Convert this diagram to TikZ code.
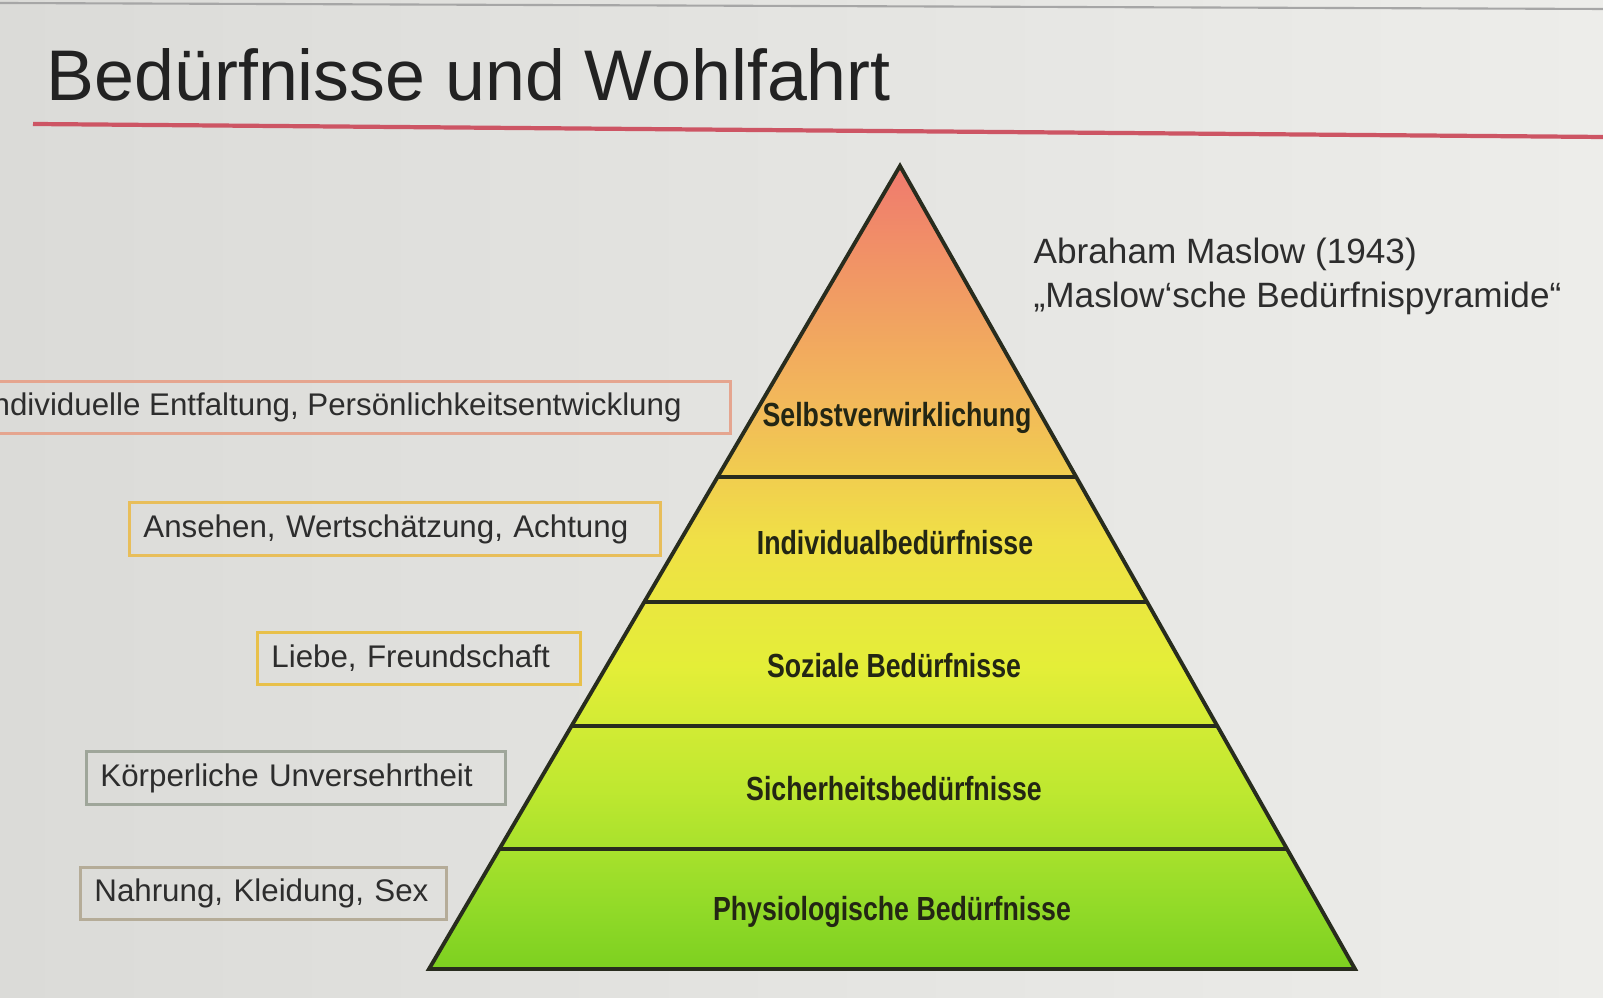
\documentclass[tikz,border=0pt]{standalone}
\usepackage{fontspec}
\setmainfont{Liberation Sans}
\newfontfamily\lblfont[FakeStretch=0.8]{Liberation Sans}
\usetikzlibrary{calc}
\definecolor{bgL}{RGB}{219,219,216}
\definecolor{bgR}{RGB}{237,237,234}
\definecolor{ttl}{RGB}{34,34,34}
\definecolor{txt}{RGB}{45,45,45}
\definecolor{rline}{RGB}{205,85,100}
\definecolor{edge}{RGB}{40,44,30}
\definecolor{lbltxt}{RGB}{35,38,20}
\definecolor{bxRed}{RGB}{229,165,143}
\definecolor{bxOra}{RGB}{232,190,90}
\definecolor{bxYel}{RGB}{232,192,74}
\definecolor{bxGra}{RGB}{159,166,154}
\definecolor{bxBei}{RGB}{181,172,152}
\definecolor{pyA}{RGB}{125,208,32}
\definecolor{pyB}{RGB}{145,218,40}
\definecolor{pyC}{RGB}{190,232,48}
\definecolor{pyD}{RGB}{228,238,56}
\definecolor{pyE}{RGB}{240,224,70}
\definecolor{pyF}{RGB}{242,184,90}
\definecolor{pyG}{RGB}{240,122,110}
\pgfdeclareverticalshading{pyrshade}{100bp}{color(0bp)=(pyA); color(25bp)=(pyA); color(28.7bp)=(pyB); color(36.1bp)=(pyC); color(43.9bp)=(pyD); color(51.7bp)=(pyE); color(60.4bp)=(pyF); color(75bp)=(pyG); color(100bp)=(pyG)}

\begin{document}
\begin{tikzpicture}[x=0.01cm,y=-0.01cm,
  needbox/.style={draw,line width=0.8pt,inner xsep=0.14cm,minimum height=0.52cm,align=left,font=\fontsize{8.9}{11}\selectfont,text=txt},
  lvllbl/.style={font=\lblfont\bfseries\fontsize{9.5}{11}\selectfont,text=lbltxt,inner sep=0pt},
  pyredge/.style={draw=edge,line width=1.1pt}]
\clip (0,0) rectangle (1603,998);
\shade[left color=bgL,right color=bgR] (0,0) rectangle (1603,998);
\draw[gray!70,line width=0.6pt] (0,3) -- (1603,9);
% title
\node[anchor=base west,inner sep=0pt,font=\fontsize{20.4}{24}\selectfont,text=ttl] (title) at (46,101) {Bedürfnisse und Wohlfahrt};
\draw[rline,line width=1.2pt] (33,124) -- (1603,137);
% pyramid
\coordinate (apex) at (900,166);
\coordinate (bl) at (429,969);
\coordinate (br) at (1355,969);
\shade[shading=pyrshade] (apex) -- (bl) -- (br) -- cycle;
\foreach \t in {0.387,0.543,0.697,0.851}
  \draw[pyredge] ($(apex)!\t!(bl)$) -- ($(apex)!\t!(br)$);
\draw[pyredge,line join=miter] (apex) -- (bl) -- (br) -- cycle;
\node[lvllbl] (lSelbst) at (897,418) {Selbstverwirklichung};
\node[lvllbl] (lIndiv) at (895,543) {Individualbedürfnisse};
\node[lvllbl] (lSozial) at (894,666) {Soziale Bedürfnisse};
\node[lvllbl] (lSicher) at (894,789) {Sicherheitsbedürfnisse};
\node[lvllbl] (lPhys) at (892,912) {Physiologische Bedürfnisse};
% author
\node[anchor=base west,inner sep=0pt,font=\fontsize{10}{12}\selectfont,text=txt] (maslowA) at (1033,264) {Abraham Maslow (1943)};
\node[anchor=base west,inner sep=0pt,font=\fontsize{10}{12}\selectfont,text=txt] (maslowB) at (1033,308) {„Maslow‘sche Bedürfnispyramide“};
% needs
\node[needbox,draw=bxRed,anchor=east,inner xsep=0.49cm] (bEntf) at (732,407.5) {Individuelle Entfaltung, Persönlichkeitsentwicklung};
\node[needbox,draw=bxOra,anchor=west,text width=5.03cm] (bAnseh) at (128,529) {Ansehen, Wertschätzung, Achtung};
\node[needbox,draw=bxYel,anchor=west,text width=2.95cm] (bLiebe) at (256,658.5) {Liebe, Freundschaft};
\node[needbox,draw=bxGra,anchor=west,text width=3.91cm] (bKoerp) at (85,778) {Körperliche Unversehrtheit};
\node[needbox,draw=bxBei,anchor=west,text width=3.38cm] (bNahr) at (79,893.5) {\mbox{Nahrung, Kleidung, Sex}};
\end{tikzpicture}
\end{document}
